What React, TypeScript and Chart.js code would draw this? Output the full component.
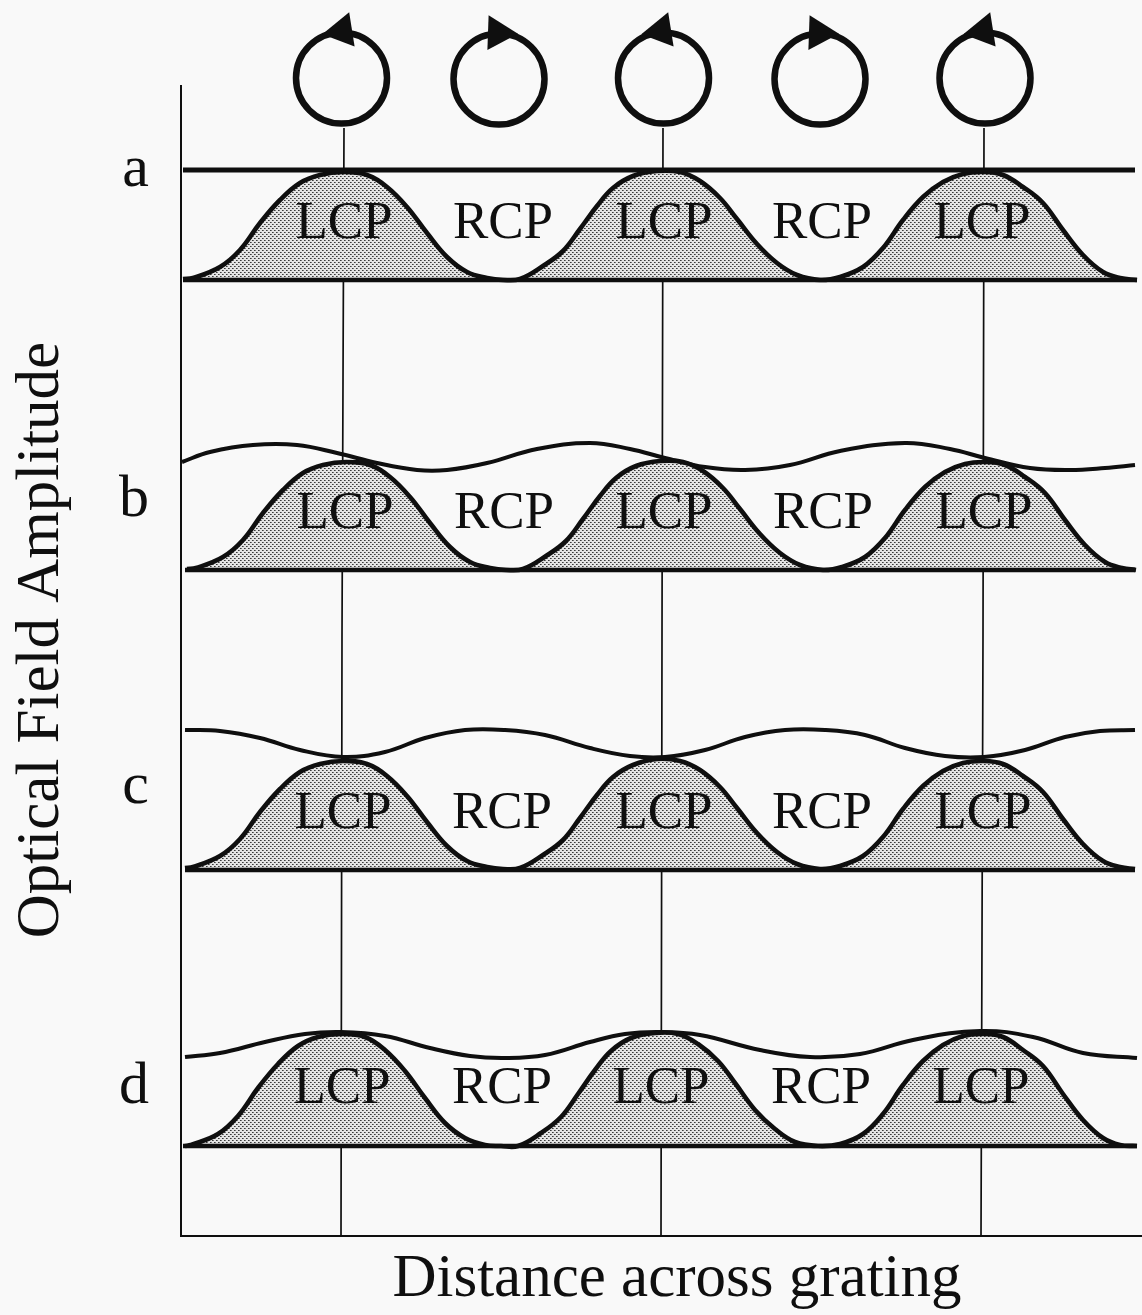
import React, { useEffect, useRef } from "react";
import { Chart, registerables } from "chart.js";

Chart.register(...registerables);

// All values are in arbitrary schematic units.
const xTitle = "Distance across grating";
const yTitle = "Optical Field Amplitude";
const panelNames = ["a", "b", "c", "d"];
const panelTicks = [106.6, 73.6, 44.9, 14.9];

const humpAX = [0.2, 1.2, 3.9, 5.9, 7.9, 9.9, 11.9, 13.9, 16.2, 18.6, 20.6, 22.6, 24.6, 26.6, 28.6, 30.6, 32.2, 33.9, 36.2, 38.2, 39.9, 41.6, 43.2, 45.2, 47.6, 49.9, 51.9, 53.9, 55.6, 57.6, 59.6, 61.6, 63.9, 65.9, 68.2, 70.2, 72.2, 74.2, 76.2, 78.2, 80.2, 82.2, 84.2, 86.2, 88.2, 90.2, 92.2, 93.9, 95.6];
const humpAY = [95.7, 95.8, 96.9, 98.6, 101.3, 103.6, 105.3, 106.1, 106.4, 106.1, 104.9, 102.9, 100.3, 97.9, 96.4, 95.8, 95.6, 95.7, 97.0, 98.5, 100.7, 103.0, 104.8, 106.0, 106.5, 106.4, 105.5, 103.8, 101.7, 99.2, 97.3, 96.1, 95.6, 95.9, 96.9, 98.8, 101.6, 103.9, 105.4, 106.2, 106.4, 106.1, 104.9, 103.3, 100.6, 98.1, 96.4, 95.8, 95.6];
const humpBX = [0.6, 1.5, 4.2, 6.2, 8.2, 10.2, 12.2, 14.2, 16.5, 18.9, 20.9, 22.9, 24.9, 26.9, 28.9, 30.9, 32.5, 34.2, 36.5, 38.5, 40.2, 41.9, 43.5, 45.5, 47.9, 50.2, 52.2, 54.2, 55.9, 57.9, 59.9, 61.9, 64.2, 66.1, 68.4, 70.4, 72.4, 74.4, 76.4, 78.4, 80.4, 82.4, 84.4, 86.4, 88.4, 90.4, 92.4, 94.1, 95.5];
const humpBY = [66.7, 66.8, 67.9, 69.6, 72.3, 74.6, 76.3, 77.1, 77.4, 77.1, 75.9, 73.9, 71.3, 68.9, 67.4, 66.8, 66.6, 66.7, 68.0, 69.5, 71.7, 74.0, 75.8, 77.0, 77.5, 77.4, 76.5, 74.8, 72.7, 70.2, 68.3, 67.1, 66.6, 66.9, 67.9, 69.8, 72.6, 74.9, 76.4, 77.2, 77.4, 77.1, 75.9, 74.3, 71.6, 69.1, 67.4, 66.8, 66.6];
const humpCX = [0.4, 1.2, 3.9, 5.9, 7.9, 9.9, 11.9, 13.9, 16.2, 18.6, 20.6, 22.6, 24.6, 26.6, 28.6, 30.6, 32.2, 33.9, 36.2, 38.2, 39.9, 41.6, 43.2, 45.2, 47.6, 49.9, 51.9, 53.9, 55.6, 57.6, 59.6, 61.6, 63.9, 65.9, 68.2, 70.2, 72.2, 74.2, 76.2, 78.2, 80.2, 82.2, 84.2, 86.2, 88.2, 90.2, 92.2, 93.9, 95.4];
const humpCY = [36.8, 36.9, 38.0, 39.7, 42.4, 44.7, 46.4, 47.2, 47.5, 47.2, 46.0, 44.0, 41.4, 39.0, 37.5, 36.9, 36.7, 36.8, 38.1, 39.6, 41.8, 44.1, 45.9, 47.1, 47.7, 47.5, 46.6, 44.9, 42.8, 40.3, 38.4, 37.2, 36.7, 37.0, 38.0, 39.9, 42.7, 45.0, 46.5, 47.3, 47.5, 47.2, 46.0, 44.4, 41.7, 39.2, 37.5, 36.9, 36.7];
const humpDX = [0.4, 1.0, 3.7, 5.7, 7.7, 9.7, 11.7, 13.7, 16.0, 18.4, 20.4, 22.4, 24.4, 26.4, 28.4, 30.4, 32.0, 33.7, 36.0, 38.0, 39.7, 41.4, 43.0, 45.0, 47.4, 49.7, 51.7, 53.7, 55.4, 57.4, 59.4, 61.4, 63.7, 65.9, 68.2, 70.2, 72.2, 74.2, 76.2, 78.2, 80.2, 82.2, 84.2, 86.2, 88.2, 90.2, 92.2, 93.9, 95.6];
const humpDY = [9.0, 9.1, 10.2, 12.0, 14.8, 17.2, 19.0, 19.9, 20.2, 19.9, 18.6, 16.5, 13.8, 11.3, 9.8, 9.1, 9.0, 9.0, 10.3, 11.9, 14.2, 16.6, 18.5, 19.8, 20.3, 20.2, 19.2, 17.5, 15.3, 12.6, 10.7, 9.4, 9.0, 9.2, 10.2, 12.2, 15.1, 17.5, 19.1, 20.0, 20.2, 19.9, 18.6, 17.0, 14.2, 11.6, 9.8, 9.1, 9.0];

const waveAX = [0.2, 95.4];
const waveAY = [106.6, 106.6];
const waveBX = [0.1, 2.9, 7.2, 11.6, 15.6, 19.6, 23.6, 26.6, 30.6, 35.6, 40.9, 44.9, 48.4, 52.4, 56.4, 60.9, 65.9, 72.4, 76.9, 80.4, 84.9, 88.9, 92.4, 95.4];
const waveBY = [77.4, 78.4, 79.1, 79.1, 78.3, 77.3, 76.6, 76.6, 77.3, 78.7, 79.3, 78.7, 77.8, 76.9, 76.6, 77.1, 78.5, 79.3, 78.7, 77.8, 76.8, 76.6, 76.8, 77.1];
const waveCX = [0.4, 3.9, 7.9, 11.9, 16.2, 20.4, 24.4, 28.4, 32.4, 36.4, 40.9, 44.9, 48.4, 52.4, 56.4, 60.4, 64.4, 68.4, 72.4, 76.4, 80.3, 84.4, 88.4, 91.9, 95.4];
const waveCY = [50.6, 50.5, 49.8, 48.6, 47.9, 48.4, 49.8, 50.6, 50.6, 50.1, 48.8, 48.0, 47.9, 48.6, 49.9, 50.6, 50.6, 50.1, 48.8, 48.0, 47.9, 48.6, 49.9, 50.5, 50.6];
const waveDX = [0.4, 3.9, 8.4, 12.4, 16.0, 20.4, 24.9, 28.9, 32.4, 36.4, 40.9, 44.4, 47.9, 51.9, 57.9, 62.9, 67.9, 73.2, 79.9, 85.2, 90.2, 95.6];
const waveDY = [17.9, 18.3, 19.4, 20.2, 20.4, 20.0, 18.8, 18.0, 17.8, 18.1, 19.4, 20.2, 20.4, 20.1, 18.6, 17.9, 18.2, 19.6, 20.5, 19.9, 18.3, 17.8];

const baselineLevels = [95.6, 66.6, 36.6, 9.0];
const baselineStart = [0.2, 0.4, 0.4, 0.2];
const baselineEnd = [95.6, 95.4, 95.4, 95.6];

const guideX = [
  [16.0, 16.1, 16.3],
  [48.0, 48.1, 48.2],
  [80.0, 80.2, 80.3],
];
const guideY = [0, 60, 110.8];

const axisLineX = [0, 0];
const axisLineY = [0, 115.1];

const polarLabels = ["LCP", "RCP", "LCP", "RCP", "LCP"];
const polarX = [
  [16.3, 32.2, 48.3, 64.1, 80.1],
  [16.4, 32.3, 48.3, 64.2, 80.3],
  [16.2, 32.1, 48.3, 64.1, 80.2],
  [16.1, 32.1, 48.0, 64.0, 80.0],
];
const polarY = [99.8, 70.8, 40.8, 13.3];

const circleX = [16.05, 31.8, 48.25, 63.9, 80.4];
const circleY = [115.8, 115.7, 115.8, 115.7, 115.8];
const arrowX = [16.1, 31.7, 48.0, 63.8, 80.2];
const arrowY = [120.5, 120.3, 120.5, 120.3, 120.5];
const arrowAngle = [261, 92, 261, 92, 261];

const zip = (xs: number[], ys: number[]) => xs.map((x, i) => ({ x, y: ys[i] }));

function stipple(): CanvasPattern | string {
  const c = document.createElement("canvas");
  c.width = 4;
  c.height = 4;
  const g = c.getContext("2d");
  if (!g) return "#b0b0b0";
  g.fillStyle = "#e4e4e4";
  g.fillRect(0, 0, 4, 4);
  g.fillStyle = "#3a3a3a";
  g.fillRect(0, 0, 1, 1);
  g.fillRect(2, 2, 1, 1);
  g.fillStyle = "#777777";
  g.fillRect(1, 0, 1, 1);
  g.fillRect(3, 2, 1, 1);
  return g.createPattern(c, "repeat") || "#b0b0b0";
}

const serif = "'Liberation Serif', serif";
const ink = "#0f0f0f";

const textPlugin = {
  id: "schematicText",
  afterDatasetsDraw(chart: any) {
    const { ctx, scales } = chart;
    const px = (v: number) => scales.x.getPixelForValue(v);
    const py = (v: number) => scales.y.getPixelForValue(v);
    ctx.save();
    ctx.fillStyle = ink;
    ctx.textAlign = "center";
    ctx.textBaseline = "alphabetic";
    ctx.font = `53px ${serif}`;
    polarX.forEach((row, p) => {
      row.forEach((x, i) => {
        ctx.fillText(polarLabels[i], px(x), py(polarY[p]));
      });
    });
    ctx.textBaseline = "middle";
    ctx.font = `61px ${serif}`;
    ctx.fillText(xTitle, px(49.6), py(-4.35));
    ctx.translate(42, py(59.6));
    ctx.rotate(-Math.PI / 2);
    ctx.fillText(yTitle, 0, 0);
    ctx.restore();
  },
};

export default function App() {
  const ref = useRef<HTMLCanvasElement>(null);

  useEffect(() => {
    if (!ref.current) return;
    const fillPattern = stipple();
    const line = (data: any[], width: number, order: number, extra: any = {}) => ({
      data,
      showLine: true,
      pointRadius: 0,
      borderColor: ink,
      borderWidth: width,
      tension: 0.4,
      clip: false,
      fill: false,
      order,
      ...extra,
    });

    const humps = [
      zip(humpAX, humpAY),
      zip(humpBX, humpBY),
      zip(humpCX, humpCY),
      zip(humpDX, humpDY),
    ];
    const waves = [
      zip(waveAX, waveAY),
      zip(waveBX, waveBY),
      zip(waveCX, waveCY),
      zip(waveDX, waveDY),
    ];

    const datasets: any[] = [
      line(zip(axisLineX, axisLineY), 2, 11, { tension: 0 }),
      ...guideX.map((xs) => line(zip(xs, guideY), 1.7, 10, { tension: 0 })),
      ...humps.map((h, i) =>
        line(h, 4.6, 5, {
          fill: { value: baselineLevels[i] },
          backgroundColor: fillPattern,
        })
      ),
      ...waves.map((w, i) => line(w, i === 0 ? 5 : 4, 4)),
      ...baselineLevels.map((y, i) =>
        line(zip([baselineStart[i], baselineEnd[i]], [y, y]), 4.5, 3, { tension: 0 })
      ),
      {
        data: zip(circleX, circleY),
        showLine: false,
        pointStyle: "circle",
        pointRadius: 45.5,
        pointBorderWidth: 6.5,
        pointBorderColor: ink,
        pointBackgroundColor: "rgba(0,0,0,0)",
        clip: false,
        order: 2,
      },
      {
        data: zip(arrowX, arrowY),
        showLine: false,
        pointStyle: "triangle",
        pointRadius: 20,
        pointRotation: arrowAngle,
        pointBorderWidth: 0,
        pointBackgroundColor: ink,
        clip: false,
        order: 1,
      },
    ];

    const chart = new Chart(ref.current, {
      type: "scatter",
      data: { datasets },
      plugins: [textPlugin],
      options: {
        animation: false,
        responsive: false,
        events: [],
        layout: { padding: 0, autoPadding: false },
        plugins: { legend: { display: false }, tooltip: { enabled: false } },
        scales: {
          x: {
            type: "linear",
            min: 0,
            max: 96.1,
            grid: { display: false, drawTicks: false },
            border: { display: true, color: ink, width: 2 },
            ticks: { display: false },
            afterFit: (s: any) => {
              s.height = 79;
              s.paddingLeft = 0;
              s.paddingRight = 0;
            },
          },
          y: {
            type: "linear",
            min: 0,
            max: 123.6,
            grid: { display: false, drawTicks: false },
            border: { display: false },
            afterBuildTicks: (s: any) => {
              s.ticks = panelTicks.map((value) => ({ value }));
            },
            ticks: {
              autoSkip: false,
              padding: 32,
              color: ink,
              font: { family: serif, size: 60 },
              callback: (v: any) => panelNames[panelTicks.indexOf(Number(v))] ?? "",
            },
            afterFit: (s: any) => {
              s.width = 181;
              s.paddingTop = 0;
              s.paddingBottom = 0;
            },
          },
        },
      },
    } as any);
    return () => chart.destroy();
  }, []);

  return (
    <div style={{ position: "absolute", left: 0, top: 0, width: 1142, height: 1315, background: "#f9f9f9" }}>
      <canvas ref={ref} width={1142} height={1315} style={{ display: "block" }} />
    </div>
  );
}
